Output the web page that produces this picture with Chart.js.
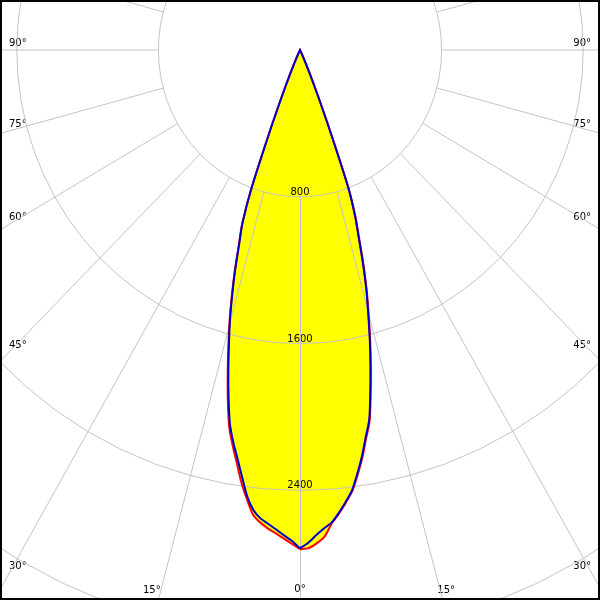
<!DOCTYPE html>
<html>
<head>
<meta charset="utf-8">
<script src="https://cdn.jsdelivr.net/npm/chart.js@4.4.1/dist/chart.umd.min.js"></script>
<style>
  html, body { margin: 0; padding: 0; background: #fff; }
  canvas { display: block; }
</style>
</head>
<body>
<canvas id="ldc" width="600" height="600"></canvas>
<script>
// gamma angles (deg from nadir) and luminous intensity (cd)
const gammaDeg = [0, 1, 2, 3, 4, 5, 6, 7, 8, 9, 10, 11, 12, 13, 14, 15, 16, 17, 18, 19, 20, 21, 22, 23, 24, 25, 27, 30];
const c0Red    = [2720, 2715, 2690, 2655, 2585, 2535, 2480, 2422, 2338, 2250, 2150, 2060, 1920, 1780, 1640, 1500, 1370, 1230, 1085, 962, 800, 490, 285, 160, 80, 40, 10, 0];
const c180Red  = [2720, 2691, 2663, 2637, 2613, 2585, 2545, 2465, 2380, 2280, 2190, 2095, 1960, 1815, 1675, 1540, 1400, 1262, 1120, 1005, 805, 490, 285, 160, 80, 40, 10, 0];
const c90Blue  = [2715, 2685, 2645, 2610, 2580, 2530, 2475, 2416, 2330, 2240, 2140, 2050, 1910, 1770, 1630, 1490, 1360, 1218, 1072, 955, 795, 490, 285, 160, 80, 40, 10, 0];
const c270Blue = [2715, 2675, 2645, 2615, 2588, 2562, 2520, 2450, 2350, 2255, 2170, 2075, 1940, 1800, 1660, 1530, 1390, 1252, 1112, 1000, 802, 490, 285, 160, 80, 40, 10, 0];

const ringValues = [800, 1600, 2400, 3200];
const ringLabels = ['800', '1600', '2400'];
const angleTicks = [0, 15, 30, 45, 60, 75, 90];

const rad = d => d * Math.PI / 180;

// polar -> cartesian (y up, nadir down); side +1 = right half, -1 = left half
function toXY(values, side) {
    return values.map((v, i) => ({
        x: side * v * Math.sin(rad(gammaDeg[i])),
        y: -v * Math.cos(rad(gammaDeg[i]))
    }));
}

function loop(right, left) {
    return toXY(right, 1).concat(toXY(left, -1).reverse());
}

const fillRight = c0Red.map((v, i) => Math.max(v, c90Blue[i]));
const fillLeft = c180Red.map((v, i) => Math.max(v, c270Blue[i]));

const FONT = '10px "DejaVu Sans", sans-serif';

const polarGrid = {
    id: 'polarGrid',
    afterDatasetDraw(chart, args) {
        if (args.index !== 0) return; // draw grid right after the yellow fill
        const ctx = chart.ctx;
        const sx = chart.scales.x, sy = chart.scales.y;
        const P = (r, deg) => [
            sx.getPixelForValue(r * Math.sin(rad(deg))),
            sy.getPixelForValue(-r * Math.cos(rad(deg)))
        ];
        // ray helpers in pixel space
        const rayYAtX = (deg, px) => {
            const [x1, y1] = P(800, deg), [x2, y2] = P(4000, deg);
            return y1 + (px - x1) * (y2 - y1) / (x2 - x1);
        };
        const rayXAtY = (deg, py) => {
            const [x1, y1] = P(800, deg), [x2, y2] = P(4000, deg);
            return x1 + (py - y1) * (x2 - x1) / (y2 - y1);
        };

        ctx.save();
        ctx.font = FONT;
        ctx.fillStyle = '#000';
        ctx.textBaseline = 'alphabetic';

        // intensity labels on the nadir axis
        ctx.textAlign = 'center';
        ringLabels.forEach((t, i) => {
            const [x, y] = P(ringValues[i], 0);
            ctx.fillText(t, x, y - 2);
        });

        // angle labels where the rays leave the frame
        angleTicks.forEach(a => {
            const txt = a + '°';
            if (a === 0) {
                ctx.textAlign = 'center';
                ctx.fillText(txt, sx.getPixelForValue(0), 592);
            } else if (a < 30) {
                ctx.textAlign = 'right';
                ctx.fillText(txt, rayXAtY(-a, 589), 593);
                ctx.textAlign = 'left';
                ctx.fillText(txt, rayXAtY(a, 589) - 2, 593);
            } else {
                ctx.textAlign = 'left';
                ctx.fillText(txt, 9, rayYAtX(-a, 9) - 4);
                ctx.textAlign = 'right';
                ctx.fillText(txt, 591, rayYAtX(a, 591) - 4);
            }
        });

        // rings and rays
        ctx.strokeStyle = '#c4c4c4';
        ctx.lineWidth = 1;
        ringValues.forEach(r => {
            ctx.beginPath();
            for (let a = 0; a <= 360; a += 5) {
                const [x, y] = P(r, a);
                if (a === 0) ctx.moveTo(x, y); else ctx.lineTo(x, y);
            }
            ctx.stroke();
        });
        for (let a = 0; a < 360; a += 15) {
            const [x1, y1] = P(800, a), [x2, y2] = P(5000, a);
            ctx.beginPath();
            ctx.moveTo(x1 + 0.5, y1);
            ctx.lineTo(x2 + 0.5, y2);
            ctx.stroke();
        }
        ctx.restore();
    },
    afterDraw(chart) {
        const ctx = chart.ctx;
        ctx.save();
        ctx.strokeStyle = '#000';
        ctx.lineWidth = 2;
        ctx.strokeRect(1, 1, chart.width - 2, chart.height - 2);
        ctx.restore();
    }
};

new Chart(document.getElementById('ldc'), {
    type: 'scatter',
    data: {
        datasets: [
            {
                label: 'fill',
                data: loop(fillRight, fillLeft),
                showLine: true,
                fill: 'shape',
                backgroundColor: '#ffff00',
                borderWidth: 0,
                pointRadius: 0,
                tension: 0.25,
                order: 3
            },
            {
                label: 'C0-C180',
                data: loop(c0Red, c180Red),
                showLine: true,
                borderColor: '#ff0000',
                borderWidth: 2,
                pointRadius: 0,
                tension: 0.25,
                order: 2
            },
            {
                label: 'C90-C270',
                data: loop(c90Blue, c270Blue),
                showLine: true,
                borderColor: '#0000cc',
                borderWidth: 2,
                pointRadius: 0,
                tension: 0.25,
                order: 1
            }
        ]
    },
    options: {
        responsive: false,
        animation: false,
        devicePixelRatio: 1,
        layout: { padding: 0 },
        scales: {
            x: { type: 'linear', display: false, min: -1695, max: 1695 },
            y: { type: 'linear', display: false, min: -2997, max: 272.5 }
        },
        plugins: {
            legend: { display: false },
            tooltip: { enabled: false }
        }
    },
    plugins: [polarGrid]
});
</script>
</body>
</html>
